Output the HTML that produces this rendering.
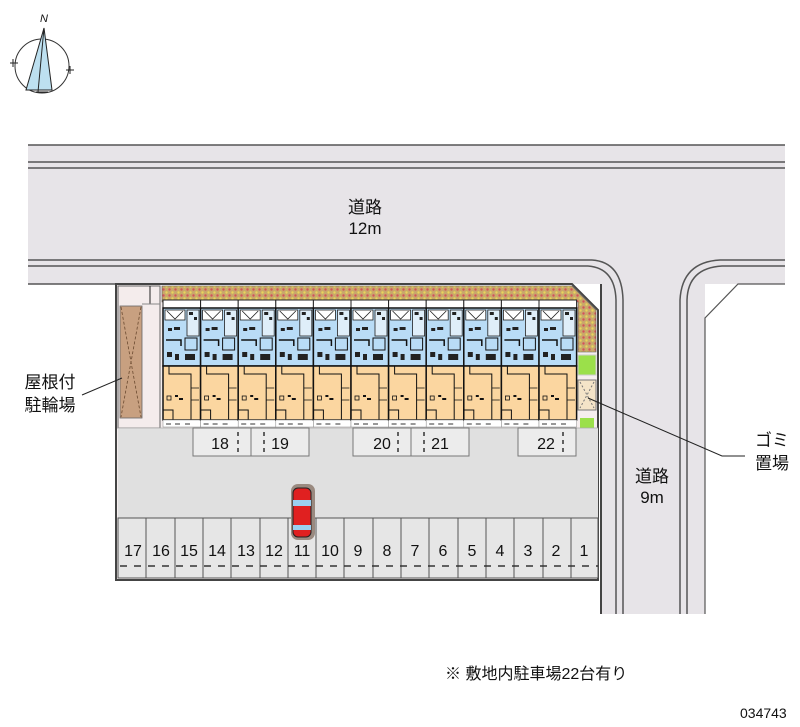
<!DOCTYPE html>
<html><head><meta charset="utf-8"><style>
html,body{margin:0;padding:0;background:#fff;width:800px;height:727px;overflow:hidden}
svg{display:block}
text{font-family:"Liberation Sans","Noto Sans CJK JP",sans-serif;fill:#111}
</style></head><body>
<svg width="800" height="727" viewBox="0 0 800 727" xmlns="http://www.w3.org/2000/svg">
<defs>
<pattern id="hatch" width="6" height="6" patternUnits="userSpaceOnUse">
<rect width="6" height="6" fill="#c9a86a"/><circle cx="1.5" cy="1.5" r="1.2" fill="#d4515d"/><circle cx="4.5" cy="4.5" r="1.2" fill="#e8d75a"/>
</pattern>
<g id="unit">
<rect x="0" y="0" width="37.6" height="8" fill="#fff" stroke="#222" stroke-width="1"/>
<rect x="0" y="8" width="37.6" height="58" fill="#b9dcf6" stroke="#111" stroke-width="1.5"/>
<rect x="2" y="10" width="20" height="10" fill="#fff" stroke="#222" stroke-width="0.8"/>
<path d="M4 11 L12 19 L20 11" fill="none" stroke="#222" stroke-width="0.8"/>
<rect x="24" y="10" width="12" height="26" fill="#dfeef9" stroke="#222" stroke-width="0.8"/>
<rect x="26" y="12" width="4" height="3" fill="#222"/><rect x="31" y="17" width="3" height="3" fill="#222"/>
<rect x="5" y="28" width="4" height="3" fill="#222"/><rect x="11" y="27" width="6" height="3" fill="#222"/>
<path d="M3 40 L18 40 L18 46" fill="none" stroke="#111" stroke-width="1.5"/>
<rect x="22" y="38" width="12" height="12" fill="none" stroke="#111" stroke-width="1"/>
<rect x="4" y="52" width="5" height="5" fill="#222"/><rect x="12" y="54" width="4" height="6" fill="#222"/><rect x="22" y="54" width="10" height="6" fill="#222"/>
<rect x="0" y="66" width="37.6" height="54" fill="#fbd6a0" stroke="#111" stroke-width="1.5"/>
<path d="M6 66 L6 74 L28 74 L28 120" fill="none" stroke="#111" stroke-width="1"/>
<path d="M28 100 L36 100 M28 88 L36 88" stroke="#111" stroke-width="0.8"/>
<rect x="4" y="96" width="4" height="4" fill="none" stroke="#111" stroke-width="0.8"/>
<rect x="12" y="95" width="3" height="2" fill="#111"/><rect x="16" y="98" width="4" height="2" fill="#111"/>
<path d="M0 110 L10 110 L10 120" fill="none" stroke="#111" stroke-width="1"/>
<rect x="0" y="120" width="37.6" height="7" fill="#fff" stroke="#888" stroke-width="0.5"/>
<path d="M3 124 h5 M12 124 h5 M22 124 h5" stroke="#333" stroke-width="1"/>
</g>
</defs>

<!-- compass -->
<circle cx="42" cy="66" r="27" fill="none" stroke="#333" stroke-width="1"/>
<path d="M44 28 L26 90 L52 90 Z" fill="#bde0f0" stroke="#222" stroke-width="1"/>
<line x1="44" y1="28" x2="38" y2="92" stroke="#222" stroke-width="1"/>
<path d="M10 63 h8 M66 70 h8 M13 59 v8 M70 66 v8 M36 92 h12" stroke="#222" stroke-width="1"/>
<text x="40" y="22" font-size="11" font-style="italic" font-family="Liberation Serif">N</text>

<!-- top road -->
<rect x="28" y="145" width="757" height="139" fill="#e7e4e8"/>
<path d="M28 145 H785 M28 162 H785 M28 168 H785" stroke="#555" stroke-width="1.6"/>
<path d="M28 260 H592 M28 266 H588 M28 284 H116" stroke="#555" stroke-width="1.5"/>
<!-- vertical road -->
<rect x="600" y="284" width="105" height="330" fill="#e7e4e8"/>
<path d="M592 260 Q622 262 623 300 L623 614 M588 266 Q615 268 616 300 L616 614" fill="none" stroke="#555" stroke-width="1.5"/>
<path d="M785 260 H720 Q682 262 680 300 L680 614 M785 266 H722 Q688 268 687 300 L687 614" fill="none" stroke="#555" stroke-width="1.5"/>
<rect x="706" y="285" width="80" height="330" fill="#fff"/>
<path d="M785 284 H738 L705 318 V614" fill="none" stroke="#555" stroke-width="1.2"/>
<line x1="601" y1="284" x2="601" y2="614" stroke="#444" stroke-width="2"/>

<!-- lot -->
<path d="M116 284 H572 L598 310 V580 H116 Z" fill="#f5eeee" stroke="#444" stroke-width="2"/>
<rect x="118" y="286" width="42" height="142" fill="#f4ecec" stroke="#666" stroke-width="1"/>
<rect x="120" y="306" width="22" height="112" fill="#c8a080" stroke="#666" stroke-width="0.8"/>
<path d="M121 307 L141 417 M141 307 L121 417" stroke="#6b4a30" stroke-width="0.8" stroke-dasharray="3 2"/>
<line x1="150" y1="286" x2="150" y2="304" stroke="#222"/>
<line x1="142" y1="304" x2="160" y2="304" stroke="#888"/>
<path d="M162 286 H572 L596 310 V352 H578 V302 H162 Z" fill="url(#hatch)" stroke="#555" stroke-width="0.6"/>
<g>
<use href="#unit" x="163" y="300"/><use href="#unit" x="200.6" y="300"/><use href="#unit" x="238.2" y="300"/><use href="#unit" x="275.8" y="300"/>
<use href="#unit" x="313.4" y="300"/><use href="#unit" x="351" y="300"/><use href="#unit" x="388.6" y="300"/><use href="#unit" x="426.2" y="300"/>
<use href="#unit" x="463.8" y="300"/><use href="#unit" x="501.4" y="300"/><use href="#unit" x="539" y="300"/>
</g>
<rect x="578" y="355" width="18" height="20" fill="#9be04a" stroke="#ccc"/>
<rect x="578" y="380" width="18" height="30" fill="#f4e4c8" stroke="#777"/>
<path d="M580 382 L594 408 M594 382 L580 408" stroke="#777" stroke-dasharray="2 2"/>
<rect x="580" y="418" width="14" height="36" fill="#9be04a"/>
<!-- parking area -->
<rect x="118" y="428" width="480" height="150" fill="#e0e0e0"/>
<path d="M118 428 H598" stroke="#aaa" stroke-width="0.8"/>
<g fill="#ececec" stroke="#777" stroke-width="1">
<rect x="193" y="428" width="58" height="28"/><rect x="251" y="428" width="58" height="28"/>
<rect x="353" y="428" width="58" height="28"/><rect x="411" y="428" width="58" height="28"/>
<rect x="518" y="428" width="58" height="28"/>
</g>
<path d="M238 432 v20 M264 432 v20 M398 432 v20 M424 432 v20 M563 432 v20" stroke="#333" stroke-width="1.5" stroke-dasharray="4 4"/>
<g font-size="16" text-anchor="middle">
<text x="220" y="449">18</text><text x="280" y="449">19</text><text x="382" y="449">20</text><text x="440" y="449">21</text><text x="546" y="449">22</text>
</g>
<rect x="118" y="518" width="480" height="60" fill="#e6e6e6" stroke="#555" stroke-width="1"/>
<g stroke="#555" stroke-width="1">
<line x1="146" y1="518" x2="146" y2="578"/><line x1="175" y1="518" x2="175" y2="578"/><line x1="203" y1="518" x2="203" y2="578"/>
<line x1="231" y1="518" x2="231" y2="578"/><line x1="260" y1="518" x2="260" y2="578"/><line x1="288" y1="518" x2="288" y2="578"/>
<line x1="316" y1="518" x2="316" y2="578"/><line x1="344" y1="518" x2="344" y2="578"/><line x1="373" y1="518" x2="373" y2="578"/>
<line x1="401" y1="518" x2="401" y2="578"/><line x1="429" y1="518" x2="429" y2="578"/><line x1="458" y1="518" x2="458" y2="578"/>
<line x1="486" y1="518" x2="486" y2="578"/><line x1="514" y1="518" x2="514" y2="578"/><line x1="543" y1="518" x2="543" y2="578"/>
<line x1="571" y1="518" x2="571" y2="578"/>
</g>
<line x1="120" y1="566" x2="598" y2="566" stroke="#333" stroke-width="1.5" stroke-dasharray="7 7"/>
<g font-size="16" text-anchor="middle">
<text x="133" y="556">17</text><text x="161" y="556">16</text><text x="189" y="556">15</text><text x="217" y="556">14</text>
<text x="246" y="556">13</text><text x="274" y="556">12</text><text x="302" y="556">11</text><text x="330" y="556">10</text>
<text x="358" y="556">9</text><text x="387" y="556">8</text><text x="415" y="556">7</text><text x="443" y="556">6</text>
<text x="472" y="556">5</text><text x="500" y="556">4</text><text x="528" y="556">3</text><text x="556" y="556">2</text><text x="584" y="556">1</text>
</g>
<!-- car -->
<rect x="291" y="484" width="24" height="56" rx="7" fill="#9a8a80"/>
<rect x="293" y="488" width="18" height="49" rx="5" fill="#e02020" stroke="#222"/>
<rect x="293" y="500" width="18" height="6" fill="#9cd0f0"/><rect x="293" y="525" width="18" height="5" fill="#9cd0f0"/>

<!-- labels -->
<g font-size="17" text-anchor="middle">
<text x="365" y="213">道路</text><text x="365" y="234">12m</text>
<text x="652" y="482">道路</text><text x="652" y="503">9m</text>
<text x="50" y="388">屋根付</text><text x="50" y="411">駐輪場</text>
<text x="772" y="446">ゴミ</text><text x="772" y="469">置場</text>
</g>
<path d="M82 395 L122 378" stroke="#222" stroke-width="1"/>
<path d="M588 398 L722 456 H745" fill="none" stroke="#222" stroke-width="1"/>
<text x="445" y="679" font-size="16">※ 敷地内駐車場22台有り</text>
<text x="740" y="718" font-size="14">034743</text>
</svg>
</body></html>
